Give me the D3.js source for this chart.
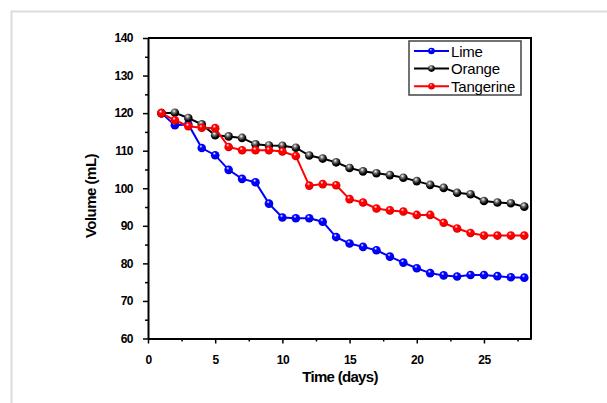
<!DOCTYPE html>
<html><head><meta charset="utf-8">
<script src="https://cdn.jsdelivr.net/npm/d3@7"></script>
<style>
html,body{margin:0;padding:0;background:#fff;}
svg{display:block;font-family:"Liberation Sans",Arial,sans-serif;}
</style></head>
<body>
<svg id="chart" width="607" height="403"></svg>
<script>
const days = d3.range(1, 29);
const lime = [120,116.8,117,110.7,108.8,104.9,102.5,101.6,95.9,92.2,92.0,92.0,91.1,87.0,85.3,84.4,83.5,81.8,80.2,78.7,77.4,76.8,76.5,76.9,76.9,76.6,76.3,76.2];
const orange = [120,120.1,118.7,117.0,114.1,113.8,113.4,111.7,111.4,111.3,110.8,108.7,107.9,106.9,105.4,104.5,104.0,103.5,102.8,101.9,100.9,100.1,98.8,98.4,96.6,96.2,96.0,95.1];
const tangerine = [120,118.1,116.5,116.1,116.0,111.0,110.1,110.1,110.1,109.8,108.6,100.7,101.1,100.8,97.1,96.2,94.6,94.1,93.8,92.9,92.9,90.8,89.3,88.1,87.4,87.4,87.4,87.4];
const seriesNames = ["Lime","Orange","Tangerine"];
const seriesColors = ["#0000ff","#000000","#ff0000"];
const xTicks = [0,5,10,15,20,25];
const yTicks = [60,70,80,90,100,110,120,130,140];

const series = [lime, orange, tangerine].map((v,i)=>({name:seriesNames[i], color:seriesColors[i], values:v}));

const svg = d3.select("#chart");
const L = 148, R = 531, T = 38, B = 338.5;
const x = d3.scaleLinear().domain([0, 28.5]).range([L, R]);
const y = d3.scaleLinear().domain([60, 140]).range([B, T]);

// outer frame
svg.append("rect").attr("x",11.5).attr("y",11.5).attr("width",640).attr("height",440)
  .attr("fill","none").attr("stroke","#dcdcdc").attr("stroke-width",2);

// gradients for 3D markers
const defs = svg.append("defs");
series.forEach((s,i)=>{
  const g = defs.append("radialGradient").attr("id","grad"+i)
    .attr("cx","40%").attr("cy","35%").attr("r","65%").attr("fx","40%").attr("fy","30%");
  g.append("stop").attr("offset","0%").attr("stop-color","#ffffff");
  g.append("stop").attr("offset","30%").attr("stop-color", i===1 ? "#777" : d3.color(s.color).brighter(0.6));
  g.append("stop").attr("offset","75%").attr("stop-color", s.color);
  g.append("stop").attr("offset","100%").attr("stop-color", d3.color(s.color).darker(0.8));
});

// minor ticks
const xMinor = d3.range(0, 28.5, 2.5).filter(v => v % 5 !== 0);
const yMinor = d3.range(65, 140, 10);

// x axis
const xAxis = d3.axisBottom(x).tickValues(xTicks).tickSize(5).tickSizeOuter(0).tickPadding(12);
const gx = svg.append("g").attr("transform",`translate(0,${B})`).call(xAxis);
gx.append("g").call(d3.axisBottom(x).tickValues(xMinor).tickSize(3).tickSizeOuter(0).tickFormat(""))
  .select(".domain").remove();
// y axis
const yAxis = d3.axisLeft(y).tickValues(yTicks).tickSize(5).tickSizeOuter(0).tickPadding(10);
const gy = svg.append("g").attr("transform",`translate(${L},0)`).call(yAxis);
gy.append("g").call(d3.axisLeft(y).tickValues(yMinor).tickSize(3).tickSizeOuter(0).tickFormat(""))
  .select(".domain").remove();

[gx, gy].forEach(g=>{
  g.selectAll(".domain").attr("stroke","#000").attr("stroke-width",2);
  g.selectAll(".tick line").attr("stroke","#000").attr("stroke-width",1.5);
  g.selectAll(".tick text").attr("fill","#000").attr("font-size","12px").attr("font-weight","bold")
    .attr("font-family","'Liberation Sans',Arial,sans-serif").attr("letter-spacing","-0.5px");
});

// top & right borders
svg.append("line").attr("x1",L).attr("x2",R).attr("y1",T).attr("y2",T).attr("stroke","#000").attr("stroke-width",2);
svg.append("line").attr("x1",R).attr("x2",R).attr("y1",T-1).attr("y2",B+1).attr("stroke","#000").attr("stroke-width",2);

// axis titles
svg.append("text").attr("x",340).attr("y",382).attr("text-anchor","middle")
  .attr("font-size","15px").attr("font-weight","bold").attr("letter-spacing","-0.7px").text("Time (days)");
svg.append("text").attr("transform",`translate(96,196) rotate(-90)`).attr("text-anchor","middle")
  .attr("font-size","15px").attr("font-weight","bold").attr("letter-spacing","-0.5px").text("Volume (mL)");

// lines and markers
const line = d3.line().x((d,i)=>x(days[i])).y(d=>y(d));
series.forEach((s,i)=>{
  const g = svg.append("g");
  g.append("path").datum(s.values).attr("d",line).attr("fill","none").attr("stroke",s.color).attr("stroke-width",2);
  g.selectAll("circle").data(s.values).join("circle")
    .attr("cx",(d,j)=>x(days[j])).attr("cy",d=>y(d)).attr("r",4.3)
    .attr("fill",`url(#grad${i})`);
});

// legend
const lg = svg.append("g");
lg.append("rect").attr("x",409).attr("y",41).attr("width",112).attr("height",54)
  .attr("fill","#fff").attr("stroke","#444").attr("stroke-width",1.5);
series.forEach((s,i)=>{
  const yy = 51 + i*17.6;
  lg.append("line").attr("x1",414).attr("x2",449).attr("y1",yy).attr("y2",yy).attr("stroke",s.color).attr("stroke-width",2);
  lg.append("circle").attr("cx",431.5).attr("cy",yy).attr("r",3.3).attr("fill",`url(#grad${i})`);
  lg.append("text").attr("x",451).attr("y",yy+5.5).attr("font-size","15px").attr("fill","#000").attr("letter-spacing","-0.2px").text(s.name);
});
</script>
</body></html>
